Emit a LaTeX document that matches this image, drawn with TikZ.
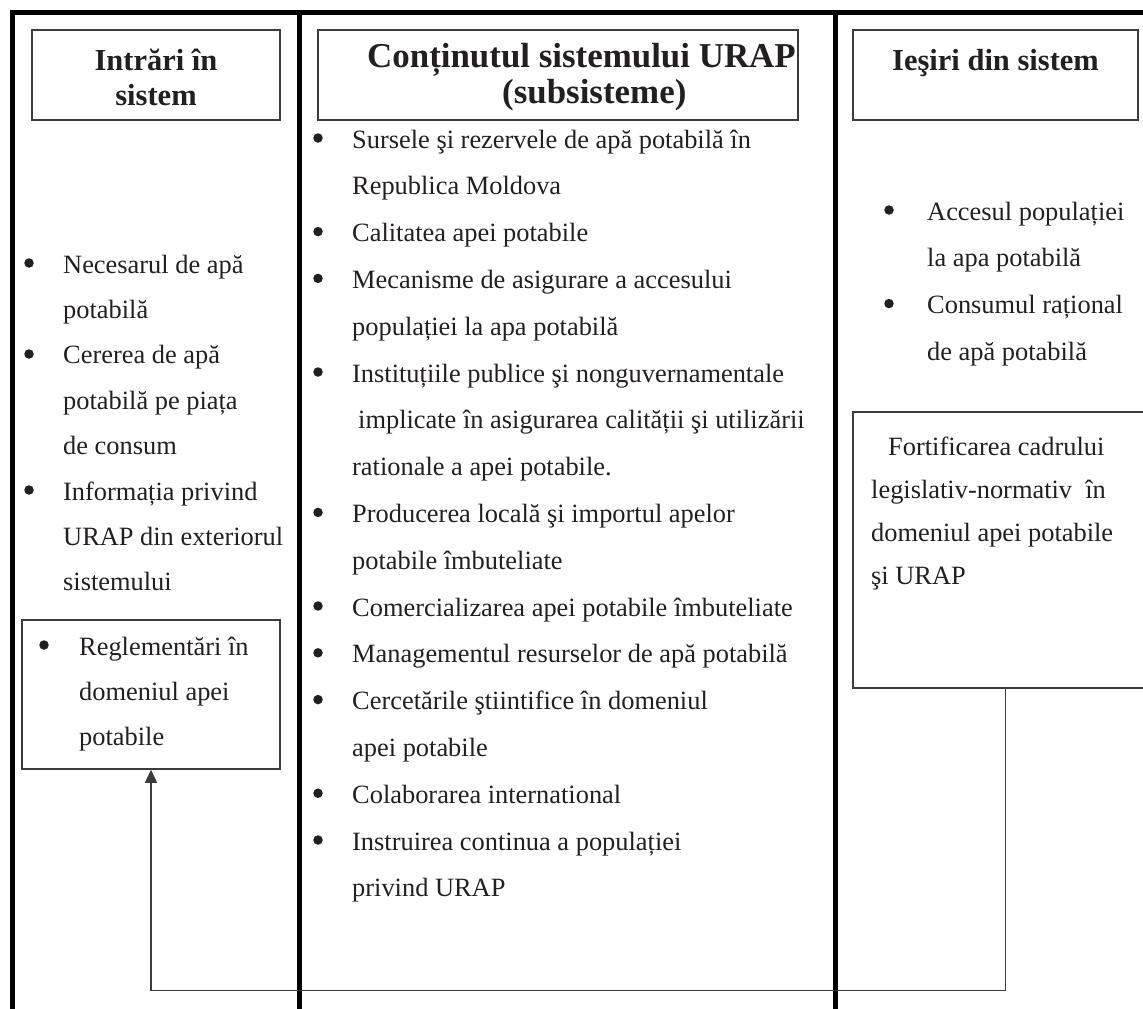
\documentclass[tikz,border=0pt]{standalone}
\usepackage{fontspec}
\setmainfont{Liberation Serif}
\usetikzlibrary{arrows.meta}

\definecolor{ink}{HTML}{231F20}
\definecolor{frame}{HTML}{3C3C3C}

% lines of one list item, baseline on the first line
\newcommand{\itemrows}[1]{\begin{tabular}[t]{@{}l@{}}#1\end{tabular}}
\newcommand{\headrows}[1]{\begin{tabular}[t]{@{}c@{}}#1\end{tabular}}

\tikzset{
    wall/.style={line width=5pt, black},
    box/.style={draw=frame, line width=1.5pt, rectangle, inner sep=0pt},
    head/.style={font=\bfseries\fontsize{30.5}{35}\selectfont, text=ink, anchor=base, inner sep=0pt},
    bighead/.style={font=\bfseries\fontsize{34.9}{37}\selectfont, text=ink, anchor=base west, inner sep=0pt},
    txt/.style={font=\fontsize{26.4}{#1}\selectfont, text=ink, anchor=base west, inner sep=0pt},
    txt/.default=46.8,
    dot/.style={circle, fill=ink, minimum size=9.5pt, inner sep=0pt},
    feedback/.style={draw=frame, line width=1.5pt, -{Triangle[length=13pt,width=12pt]}}
}

\begin{document}
\begin{tikzpicture}[x=1pt,y=-1pt]

\useasboundingbox (0,0) rectangle (1143,1009);

% Thick column walls
\draw[wall] (12.5,1020) -- (12.5,12.5) -- (1170,12.5);
\draw[wall] (299.5,12.5) -- (299.5,1020);
\draw[wall] (835,12.5) -- (835,1020);

% Header boxes
\node[box, minimum width=248pt, minimum height=90pt] (hin) at (156,75) {};
\node[box, minimum width=480pt, minimum height=90pt] (hmid) at (558,75) {};
\node[box, minimum width=285pt, minimum height=90pt] (hout) at (995.5,75) {};

\node[head] (tin) at (156,70) {\headrows{Intrări în\\sistem}};
\node[bighead] (tmid1) at (367,67) {Conținutul sistemului URAP};
\node[bighead] (tmid2) at (502,103) {(subsisteme)};
\node[head] (tout) at (995.5,70) {Ieşiri din sistem};

% Inputs column
\node[dot] (bi1) at (29,263) {};
\node[txt=45.4] (in1) at (63,273) {\itemrows{Necesarul de apă\\potabilă}};
\node[dot] (bi2) at (29,354) {};
\node[txt=45.4] (in2) at (63,363.8) {\itemrows{Cererea de apă\\potabilă pe piața\\de consum}};
\node[dot] (bi3) at (29,490) {};
\node[txt=45.4] (in3) at (63,500) {\itemrows{Informația privind\\URAP din exteriorul\\sistemului}};

% Regulations box
\node[box, minimum width=258pt, minimum height=149pt] (reg) at (151,694.5) {};
\node[dot] (bi4) at (44,645) {};
\node[txt=45.4] (in4) at (79,655) {\itemrows{Reglementări în\\domeniul apei\\potabile}};

% Subsystems column
\node[dot] (bs1) at (318,138) {};
\node[txt] (s1) at (352,148) {\itemrows{Sursele şi rezervele de apă potabilă în\\Republica Moldova}};
\node[dot] (bs2) at (318,231.6) {};
\node[txt] (s2) at (352,241.6) {Calitatea apei potabile};
\node[dot] (bs3) at (318,278.4) {};
\node[txt] (s3) at (352,288.4) {\itemrows{Mecanisme de asigurare a accesului\\populației la apa potabilă}};
\node[dot] (bs4) at (318,372) {};
\node[txt] (s4) at (352,382) {\itemrows{Instituțiile publice şi nonguvernamentale\\\hspace*{6pt}implicate în asigurarea calității şi utilizării\\rationale a apei potabile.}};
\node[dot] (bs5) at (318,512.4) {};
\node[txt] (s5) at (352,522.4) {\itemrows{Producerea locală şi importul apelor\\potabile îmbuteliate}};
\node[dot] (bs6) at (318,606) {};
\node[txt] (s6) at (352,616) {Comercializarea apei potabile îmbuteliate};
\node[dot] (bs7) at (318,652.8) {};
\node[txt] (s7) at (352,662.8) {Managementul resurselor de apă potabilă};
\node[dot] (bs8) at (318,699.6) {};
\node[txt] (s8) at (352,709.6) {\itemrows{Cercetările ştiintifice în domeniul\\apei potabile}};
\node[dot] (bs9) at (318,793.2) {};
\node[txt] (s9) at (352,803.2) {Colaborarea international};
\node[dot] (bs10) at (318,840) {};
\node[txt] (s10) at (352,850) {\itemrows{Instruirea continua a populației\\privind URAP}};

% Outputs column
\node[dot] (bo1) at (889,210) {};
\node[txt] (o1) at (927,220) {\itemrows{Accesul populației\\la apa potabilă}};
\node[dot] (bo2) at (889,303.6) {};
\node[txt] (o2) at (927,313.6) {\itemrows{Consumul rațional\\de apă potabilă}};

% Legislative box
\node[box, minimum width=305pt, minimum height=276pt] (fort) at (1005.5,550) {};
\node[txt=43] (f1) at (871,455) {\itemrows{\hspace*{17pt}Fortificarea cadrului\\legislativ-normativ\ \ în\\domeniul apei potabile\\şi URAP}};

% Feedback loop
\coordinate (turn) at (1005.5,990.5);
\draw[feedback] (fort.south) -- (turn) -| (reg.south);

\end{tikzpicture}
\end{document}
